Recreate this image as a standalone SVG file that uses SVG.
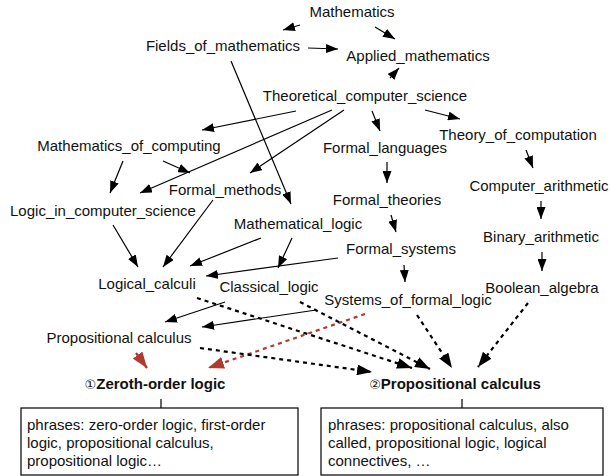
<svg xmlns="http://www.w3.org/2000/svg" width="610" height="476" viewBox="0 0 610 476">
<style>
text{font-family:"Liberation Sans",Arial,sans-serif;font-size:15px;fill:#111;text-anchor:middle}
.b{font-weight:bold}
.n{font-weight:normal;font-family:"DejaVu Sans",sans-serif;font-size:13px}
.l{text-anchor:start}
.s{stroke:#000;stroke-width:1.2;fill:none;marker-end:url(#a)}
.d{stroke:#000;stroke-width:2.2;stroke-dasharray:4 4;fill:none;marker-end:url(#ad)}
.r{stroke:#b03a2e;stroke-width:2.2;fill:none;marker-end:url(#ar)}
.rd{stroke:#b03a2e;stroke-width:2.2;stroke-dasharray:4 4;fill:none;marker-end:url(#ar)}
.box{fill:#fff;stroke:#000;stroke-width:1.2}
.t{stroke:#000;stroke-width:1.2}
</style>
<defs>
<marker id="a" markerUnits="userSpaceOnUse" markerWidth="13" markerHeight="9" refX="12" refY="4.5" orient="auto"><path d="M0,0 L12,4.5 L0,9 z" fill="#000"/></marker>
<marker id="ad" markerUnits="userSpaceOnUse" markerWidth="16" markerHeight="11" refX="15" refY="5.5" orient="auto"><path d="M0,0 L15,5.5 L0,11 z" fill="#000"/></marker>
<marker id="ar" markerUnits="userSpaceOnUse" markerWidth="17" markerHeight="12" refX="16" refY="6" orient="auto"><path d="M0,0 L16,6 L0,12 z" fill="#b03a2e"/></marker>
</defs>
<g id="connectors">
<line class="s" x1="300" y1="25" x2="283" y2="30"/>
<line class="s" x1="375" y1="27" x2="395" y2="39"/>
<line class="s" x1="308" y1="48" x2="338" y2="49"/>
<line class="s" x1="390" y1="78" x2="399" y2="68"/>
<line class="s" x1="231" y1="61" x2="291" y2="204"/>
<line class="s" x1="296" y1="111" x2="202" y2="130"/>
<line class="s" x1="332" y1="110" x2="140" y2="193"/>
<line class="s" x1="344" y1="110" x2="250" y2="173"/>
<line class="s" x1="372" y1="111" x2="380" y2="131"/>
<line class="s" x1="425" y1="110" x2="460" y2="119"/>
<line class="s" x1="123" y1="161" x2="110" y2="193"/>
<line class="s" x1="163" y1="161" x2="190" y2="173"/>
<line class="s" x1="387" y1="162" x2="387" y2="183"/>
<line class="s" x1="526" y1="150" x2="533" y2="168"/>
<line class="s" x1="541" y1="201" x2="541" y2="219"/>
<line class="s" x1="542" y1="252" x2="542" y2="271"/>
<line class="s" x1="391" y1="215" x2="396" y2="232"/>
<line class="s" x1="404" y1="265" x2="405" y2="282"/>
<line class="s" x1="113" y1="225" x2="138" y2="267"/>
<line class="s" x1="213" y1="200" x2="163" y2="267"/>
<line class="s" x1="261" y1="238" x2="190" y2="266"/>
<line class="s" x1="292" y1="238" x2="278" y2="268"/>
<line class="s" x1="338" y1="258" x2="206" y2="276"/>
<line class="s" x1="225" y1="302" x2="165" y2="322"/>
<line class="s" x1="316" y1="310" x2="202" y2="327"/>
<line class="r" x1="136" y1="353" x2="147" y2="368"/>
<line class="rd" x1="365" y1="314" x2="208" y2="368"/>
<line class="d" x1="200" y1="348" x2="372" y2="372"/>
<line class="d" x1="197" y1="298" x2="412" y2="368"/>
<line class="d" x1="300" y1="302" x2="430" y2="369"/>
<line class="d" x1="417" y1="315" x2="452" y2="368"/>
<line class="d" x1="528" y1="303" x2="478" y2="367"/>
<line class="t" x1="161" y1="399" x2="161" y2="408"/>
<line class="t" x1="462" y1="399" x2="462" y2="408"/>
</g>
<g id="n-mathematics"><text x="352" y="17">Mathematics</text></g>
<g id="n-fields"><text x="223" y="51">Fields_of_mathematics</text></g>
<g id="n-applied"><text x="418" y="61">Applied_mathematics</text></g>
<g id="n-tcs"><text x="365" y="101">Theoretical_computer_science</text></g>
<g id="n-moc"><text x="129" y="151">Mathematics_of_computing</text></g>
<g id="n-fl"><text x="385" y="153">Formal_languages</text></g>
<g id="n-toc"><text x="518" y="140">Theory_of_computation</text></g>
<g id="n-fm"><text x="225" y="195">Formal_methods</text></g>
<g id="n-lics"><text x="103" y="216">Logic_in_computer_science</text></g>
<g id="n-ft"><text x="387" y="205">Formal_theories</text></g>
<g id="n-ca"><text x="539" y="191">Computer_arithmetic</text></g>
<g id="n-ml"><text x="298" y="229">Mathematical_logic</text></g>
<g id="n-ba"><text x="541" y="242">Binary_arithmetic</text></g>
<g id="n-fs"><text x="401" y="254">Formal_systems</text></g>
<g id="n-lc"><text x="147" y="289">Logical_calculi</text></g>
<g id="n-cl"><text x="269" y="292">Classical_logic</text></g>
<g id="n-bool"><text x="542" y="293">Boolean_algebra</text></g>
<g id="n-sofl"><text x="408" y="305">Systems_of_formal_logic</text></g>
<g id="n-pc"><text x="119" y="343">Propositional calculus</text></g>
<g id="n-zeroth"><text class="b" x="155" y="389"><tspan class="n">①</tspan>Zeroth-order logic</text>
<rect class="box" x="21" y="408" width="277" height="67"/>
<text class="l" x="27" y="430">phrases: zero-order logic, first-order</text>
<text class="l" x="27" y="448">logic, propositional calculus,</text>
<text class="l" x="27" y="466">propositional logic…</text></g>
<g id="n-propcalc"><text class="b" x="455" y="389"><tspan class="n">②</tspan>Propositional calculus</text>
<rect class="box" x="321" y="408" width="282" height="67"/>
<text class="l" x="328" y="430">phrases: propositional calculus, also</text>
<text class="l" x="328" y="448">called, propositional logic, logical</text>
<text class="l" x="328" y="466">connectives, …</text></g>
</svg>
